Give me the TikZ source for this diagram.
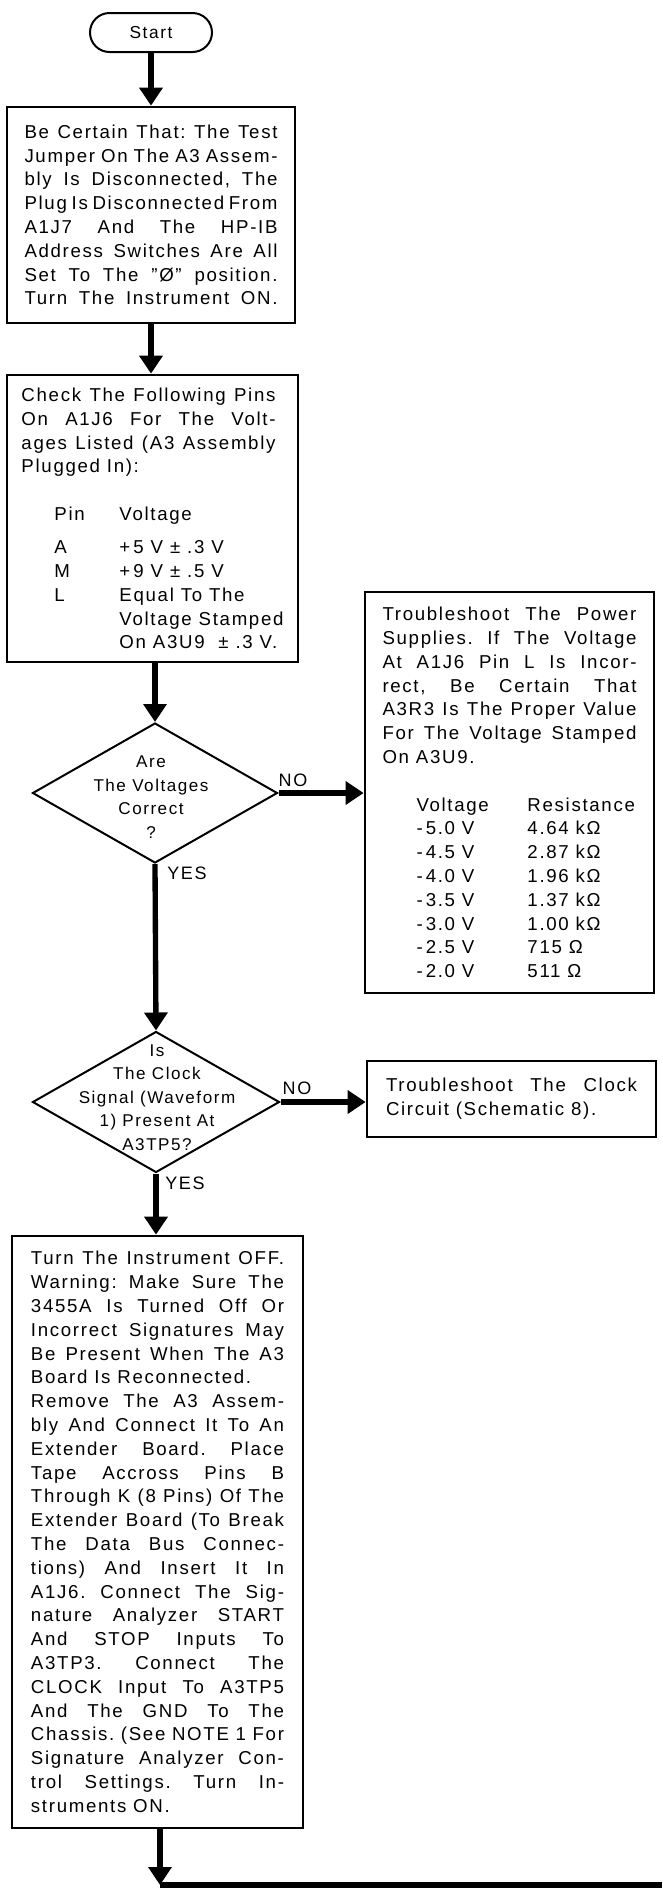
\documentclass[tikz,border=0pt]{standalone}
\usepackage{fontspec}
\setmainfont{Liberation Sans}[LetterSpace=9]
\usetikzlibrary{arrows.meta,shapes.geometric,shapes.misc,calc}
\newcommand\bxfont{\fontsize{14}{17.85}\selectfont}
\newcommand\diafont{\fontsize{12.8}{17.7}\selectfont}
\newcommand\lblfont{\fontsize{13.5}{16}\selectfont}
\newcommand\tbox[2]{\vbox{\hsize=#1\relax\bxfont\frenchspacing #2}}
\newcommand\jl[1]{\hbox to \hsize{#1}}
\newcommand\nl[1]{\hbox{#1}}
\newcommand\blankline{\hbox{}}
\newcommand\trow[4]{\hbox{\hskip #1\hbox to #2{#3\hfil}#4}}
\begin{document}
\begin{tikzpicture}[x=0.75pt,y=-0.75pt,
  box/.style={draw, line width=2pt, rectangle, inner sep=0pt},
  term/.style={draw, line width=1.5pt, rounded rectangle, inner sep=0pt, font=\fontsize{13}{15}\selectfont},
  dia/.style={draw, line width=1.5pt, diamond, inner sep=0pt},
  diatext/.style={align=center, inner sep=0pt, font=\diafont},
  lbl/.style={inner sep=0pt, font=\lblfont},
  flow/.style={line width=4pt, -{Triangle[length=13.5pt,width=17pt]}},
  trunk/.style={line width=4pt}]
\useasboundingbox (0,0) rectangle (662,1889);

\node[term, minimum width=91.5pt, minimum height=29.25pt] (start) at (151,32.5) {Start};

\node[box, minimum width=216pt, minimum height=162pt] (b1) at (151,215) {\tbox{189.75pt}{%
\jl{Be Certain That: The Test}
\jl{Jumper On The A3 Assem-}
\jl{bly Is Disconnected, The}
\jl{Plug Is Disconnected From}
\jl{A1J7 And The HP-IB}
\jl{Address Switches Are All}
\jl{Set To The ''Ø'' position.}
\jl{Turn The Instrument ON.}}};

\node[box, minimum width=218.25pt, minimum height=215.25pt] (b2) at (152.5,518.5) {\tbox{190.5pt}{%
\jl{Check The Following Pins}
\jl{On A1J6 For The Volt-}
\jl{ages Listed (A3 Assembly}
\nl{Plugged In):}
\blankline
\trow{24.75pt}{48.75pt}{Pin}{Voltage}
\vskip 7pt
\trow{24.75pt}{48.75pt}{A}{+\,5 V ± .3 V}
\trow{24.75pt}{48.75pt}{M}{+\,9 V ± .5 V}
\trow{24.75pt}{48.75pt}{L}{Equal To The}
\trow{24.75pt}{48.75pt}{}{Voltage Stamped}
\trow{24.75pt}{48.75pt}{}{On A3U9 ~± .3 V.}}};

\node[dia, minimum width=183.75pt, minimum height=105pt] (q1) at (155,793) {};
\node[diatext] (q1t) at (151,797) {Are\\The Voltages\\Correct\\?};
\node[lbl] (no1) at (293,780) {NO};
\node[lbl] (yes1) at (187,873) {YES};

\node[box, minimum width=216.75pt, minimum height=300.75pt] (pw) at (509.5,792.5) {\tbox{190.5pt}{%
\jl{Troubleshoot The Power}
\jl{Supplies. If The Voltage}
\jl{At A1J6 Pin L Is Incor-}
\jl{rect, Be Certain That}
\jl{A3R3 Is The Proper Value}
\jl{For The Voltage Stamped}
\nl{On A3U9.}
\blankline
\trow{25.5pt}{83.25pt}{Voltage}{Resistance}
\trow{25.5pt}{83.25pt}{-\,5.0 V}{4.64 kΩ}
\trow{25.5pt}{83.25pt}{-\,4.5 V}{2.87 kΩ}
\trow{25.5pt}{83.25pt}{-\,4.0 V}{1.96 kΩ}
\trow{25.5pt}{83.25pt}{-\,3.5 V}{1.37 kΩ}
\trow{25.5pt}{83.25pt}{-\,3.0 V}{1.00 kΩ}
\trow{25.5pt}{83.25pt}{-\,2.5 V}{715 Ω}
\trow{25.5pt}{83.25pt}{-\,2.0 V}{511 Ω}}};

\node[dia, minimum width=185.25pt, minimum height=105.75pt] (q2) at (156,1102) {};
\node[diatext] (q2t) at (157,1097.5) {Is\\The Clock\\Signal (Waveform\\1) Present At\\A3TP5?};
\node[lbl] (no2) at (297,1088) {NO};
\node[lbl] (yes2) at (185,1183) {YES};

\node[box, minimum width=216.75pt, minimum height=57pt] (ck) at (511.5,1099) {\tbox{188.25pt}{%
\jl{Troubleshoot The Clock}
\nl{Circuit (Schematic 8).}}};

\node[box, minimum width=218.25pt, minimum height=444pt] (b3) at (157.5,1532) {\tbox{189.75pt}{%
\jl{Turn The Instrument OFF.}
\jl{Warning: Make Sure The}
\jl{3455A Is Turned Off Or}
\jl{Incorrect Signatures May}
\jl{Be Present When The A3}
\nl{Board Is Reconnected.}
\jl{Remove The A3 Assem-}
\jl{bly And Connect It To An}
\jl{Extender Board. Place}
\jl{Tape Accross Pins B}
\jl{Through K (8 Pins) Of The}
\jl{Extender Board (To Break}
\jl{The Data Bus Connec-}
\jl{tions) And Insert It In}
\jl{A1J6. Connect The Sig-}
\jl{nature Analyzer START}
\jl{And STOP Inputs To}
\jl{A3TP3. Connect The}
\jl{CLOCK Input To A3TP5}
\jl{And The GND To The}
\jl{Chassis. (See NOTE 1 For}
\jl{Signature Analyzer Con-}
\jl{trol Settings. Turn In-}
\nl{struments ON.}}};

\coordinate (join) at (160,1885);
\coordinate (edgeR) at (662,1885);

\draw[flow] (start.south) -- (start.south |- b1.north);
\draw[flow] (b1.south) -- (b1.south |- b2.north);
\draw[flow] (q1.north |- b2.south) -- (q1.north);
\draw[flow] (q1.south) -- (q2.north);
\draw[flow] (q2.south) -- (q2.south |- b3.north);
\draw[flow] (q1.east) -- (q1.east -| pw.west);
\draw[flow] (q2.east) -- (q2.east -| ck.west);
\draw[flow] (join |- b3.south) -- (join);
\draw[trunk] (edgeR) -- (join);
\end{tikzpicture}
\end{document}
